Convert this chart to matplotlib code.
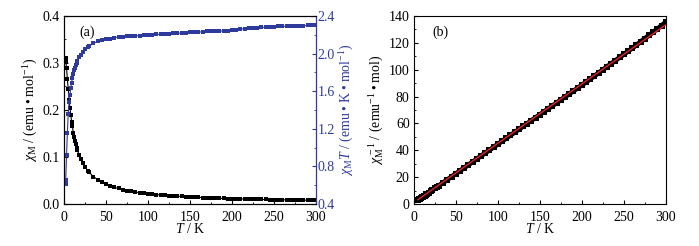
import matplotlib.pyplot as plt
from matplotlib.ticker import MultipleLocator

plt.rcParams['font.family'] = ['Liberation Serif', 'DejaVu Serif']
plt.rcParams['mathtext.fontset'] = 'custom'
plt.rcParams['mathtext.rm'] = 'Liberation Serif'
plt.rcParams['mathtext.it'] = 'Liberation Serif:italic'
plt.rcParams['font.size'] = 10

# temperature grid (K)
T = [1.8, 2, 3, 4, 5, 6, 7, 8, 9, 10, 11, 12, 13, 14, 15, 16, 18, 20, 22, 25, 28, 30, 35, 40, 45,
     50, 55, 60, 65, 70, 75, 80, 85, 90, 95, 100, 105, 110, 115, 120, 125, 130, 135, 140, 145,
     150, 155, 160, 165, 170, 175, 180, 185, 190, 195, 200, 205, 210, 215, 220, 225, 230, 235,
     240, 245, 250, 255, 260, 265, 270, 275, 280, 285, 290, 295, 300]

# chi_M (emu/mol)
chi = [0.31, 0.305, 0.29, 0.265, 0.245, 0.222, 0.205, 0.19, 0.175, 0.165, 0.152, 0.142, 0.134,
       0.127, 0.12, 0.114, 0.104, 0.095, 0.087, 0.078, 0.071, 0.067, 0.058, 0.052, 0.046,
       0.042, 0.038, 0.035, 0.033, 0.030, 0.028, 0.027, 0.025, 0.024, 0.023, 0.022, 0.021,
       0.020, 0.019, 0.018, 0.0175, 0.017, 0.0165, 0.016, 0.0153, 0.0148, 0.0144, 0.0139,
       0.0135, 0.0131, 0.0128, 0.0124, 0.0121, 0.0118, 0.0115, 0.0112, 0.011, 0.0107, 0.0105,
       0.0103, 0.0101, 0.0099, 0.0097, 0.0095, 0.0093, 0.0091, 0.009, 0.0088, 0.0086, 0.0085,
       0.0083, 0.0082, 0.0081, 0.0079, 0.0078, 0.0077]

# chi_M*T (emu K/mol)
chiT = [0.61, 0.65, 0.92, 1.16, 1.36, 1.48, 1.56, 1.63, 1.69, 1.74, 1.78, 1.82, 1.85, 1.88,
        1.90, 1.92, 1.96, 1.99, 2.02, 2.05, 2.07, 2.08, 2.11, 2.13, 2.14,
        2.15, 2.16, 2.17, 2.175, 2.18, 2.185, 2.185, 2.19, 2.19, 2.195, 2.20, 2.20, 2.205,
        2.205, 2.21, 2.21, 2.215, 2.215, 2.22, 2.22, 2.225, 2.225, 2.23, 2.23, 2.235, 2.235,
        2.24, 2.24, 2.24, 2.245, 2.25, 2.255, 2.26, 2.265, 2.27, 2.275, 2.275, 2.28, 2.28,
        2.285, 2.285, 2.29, 2.29, 2.29, 2.295, 2.295, 2.295, 2.295, 2.30, 2.30, 2.30]

# 1/chi_M (mol/emu)
chi_inv = [2.6, 2.6, 2.7, 2.9, 3.1, 3.4, 3.7, 4.1, 4.5, 4.9, 5.3, 5.8, 6.2, 6.6, 7.1, 7.5, 8.4,
           9.3, 10.2, 11.5, 12.8, 13.7, 15.9, 18.1, 20.3,
           22.5, 24.7, 26.9, 29.1, 31.3, 33.5, 35.7, 37.9, 40.1, 42.3, 44.5, 46.7, 48.9, 51.1,
           53.3, 55.5, 57.7, 59.9, 62.1, 64.3, 66.5, 68.7, 70.9, 73.1, 75.3, 77.5, 79.7, 81.9,
           84.1, 86.3, 88.5, 90.8, 93.0, 95.3, 97.6, 99.9, 102.2, 104.5, 106.8, 109.1, 111.4,
           113.7, 116.0, 118.4, 120.8, 123.2, 125.6, 128.0, 130.4, 132.9, 135.5]

# Curie-Weiss fit line
fit_T = [5, 300]
fit_inv = [3.2, 133.5]

blue = '#2e3b9c'

fig = plt.figure(figsize=(6.99, 2.46), dpi=100)
ax1 = fig.add_axes([0.0916, 0.171, 0.3605, 0.764])
ax2 = fig.add_axes([0.592, 0.171, 0.3605, 0.764])

# (a) chi and chi*T
ax1.plot(T, chi, 's-', color='black', ms=3.2, lw=0.8, mew=0)
ax1.set_xlim(0, 300)
ax1.set_ylim(0, 0.4)
ax1.xaxis.set_major_locator(MultipleLocator(50))
ax1.xaxis.set_minor_locator(MultipleLocator(25))
ax1.yaxis.set_major_locator(MultipleLocator(0.1))
ax1.yaxis.set_minor_locator(MultipleLocator(0.05))
ax1.yaxis.set_major_formatter(plt.FormatStrFormatter('%.1f'))
ax1.set_xlabel('$T$ / K', labelpad=-1)
ax1.set_ylabel('$\\chi_\\mathrm{M}$ / (emu\u2009\u2022\u2009mol$^{-1}$)', labelpad=2)
ax1.text(0.06, 0.915, '(a)', transform=ax1.transAxes, va='center')

ax1r = ax1.twinx()
ax1r.plot(T, chiT, 's-', color=blue, ms=3.2, lw=0.8, mew=0)
ax1r.set_ylim(0.4, 2.4)
ax1r.yaxis.set_major_locator(MultipleLocator(0.4))
ax1r.yaxis.set_minor_locator(MultipleLocator(0.2))
ax1r.yaxis.set_major_formatter(plt.FormatStrFormatter('%.1f'))
ax1r.set_ylabel('$\\chi_\\mathrm{M}T$ / (emu\u2009\u2022\u2009K\u2009\u2022\u2009mol$^{-1}$)',
                color=blue, labelpad=2)
ax1r.spines['right'].set_color(blue)
ax1r.tick_params(axis='y', which='both', colors=blue, direction='in')
ax1r.tick_params(axis='y', which='major', length=3, pad=1)
ax1r.tick_params(axis='y', which='minor', length=1.5)

# (b) 1/chi
ax2.plot(T, chi_inv, 's-', color='black', ms=4.5, lw=3.5, mew=0)
ax2.plot(fit_T, fit_inv, '-', color='#e8202a', lw=1.0)
ax2.set_xlim(0, 300)
ax2.set_ylim(0, 140)
ax2.xaxis.set_major_locator(MultipleLocator(50))
ax2.xaxis.set_minor_locator(MultipleLocator(25))
ax2.yaxis.set_major_locator(MultipleLocator(20))
ax2.yaxis.set_minor_locator(MultipleLocator(10))
ax2.set_xlabel('$T$ / K', labelpad=-1)
ax2.set_ylabel('$\\chi_\\mathrm{M}^{\\,-1}$ / (emu$^{-1}$\u2009\u2022\u2009mol)', labelpad=2)
ax2.text(0.075, 0.915, '(b)', transform=ax2.transAxes, va='center')

for ax in (ax1, ax2):
    ax.tick_params(which='both', direction='in', top=False, right=False)
    ax.tick_params(which='major', length=3, pad=3)
    ax.tick_params(which='minor', length=1.5)
    ax.tick_params(axis='x', which='major', pad=5)
    for s in ax.spines.values():
        s.set_linewidth(0.8)
ax1r.spines['right'].set_linewidth(0.8)

fig.savefig('out.png', dpi=100)
